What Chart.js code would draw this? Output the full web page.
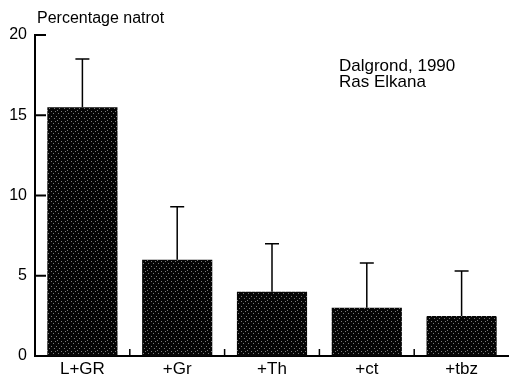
<!DOCTYPE html>
<html>
<head>
<meta charset="utf-8">
<script src="https://cdn.jsdelivr.net/npm/chart.js@4"></script>
<style>
  html, body { margin: 0; padding: 0; background: #fff; }
  #chart { display: block; }
</style>
</head>
<body>
<canvas id="chart" width="509" height="376"></canvas>
<script>
const categories = ['L+GR', '+Gr', '+Th', '+ct', '+tbz'];
const values = [15.5, 6.0, 4.0, 3.0, 2.5];
const errorTops = [18.5, 9.3, 7.0, 5.8, 5.3];
const yTicks = [0, 5, 10, 15, 20];

const FONT = '"Liberation Sans", Arial, Helvetica, sans-serif';

// dark stippled fill like the printed bars
function makePattern() {
  const c = document.createElement('canvas');
  c.width = 10; c.height = 10;
  const g = c.getContext('2d');
  g.fillStyle = '#060606';
  g.fillRect(0, 0, 10, 10);
  g.fillStyle = '#7a7a7a';
  [[1, 1], [5, 1], [3, 3], [8, 3], [1, 6], [6, 6], [4, 8], [9, 8], [7, 0]].forEach(p => g.fillRect(p[0], p[1], 1, 1));
  return g.createPattern(c, 'repeat');
}

const extras = {
  id: 'extras',
  afterDraw(chart) {
    const { ctx, scales: { x, y }, chartArea } = chart;
    ctx.save();
    ctx.strokeStyle = '#000';
    ctx.fillStyle = '#000';

    // error bars (upper only)
    ctx.lineWidth = 1.5;
    errorTops.forEach((e, i) => {
      const px = x.getPixelForValue(i);
      const top = y.getPixelForValue(e);
      const base = y.getPixelForValue(values[i]);
      ctx.beginPath();
      ctx.moveTo(px, base);
      ctx.lineTo(px, top);
      ctx.moveTo(px - 7, top);
      ctx.lineTo(px + 7, top);
      ctx.stroke();
    });

    // inward y ticks
    ctx.lineWidth = 2;
    yTicks.forEach(v => {
      const py = y.getPixelForValue(v);
      ctx.beginPath();
      ctx.moveTo(chartArea.left, py);
      ctx.lineTo(chartArea.left + 11, py);
      ctx.stroke();
    });

    // small ticks between categories
    ctx.lineWidth = 1.5;
    for (let i = 1; i < categories.length; i++) {
      const px = (x.getPixelForValue(i - 1) + x.getPixelForValue(i)) / 2;
      ctx.beginPath();
      ctx.moveTo(px, chartArea.bottom);
      ctx.lineTo(px, chartArea.bottom - 7);
      ctx.stroke();
    }

    ctx.textAlign = 'left';
    ctx.textBaseline = 'alphabetic';
    ctx.font = '16px ' + FONT;
    ctx.fillText('Percentage natrot', 37, 23);
    ctx.font = '17px ' + FONT;
    ctx.fillText('Dalgrond, 1990', 339, 71);
    ctx.fillText('Ras Elkana', 339, 87);
    ctx.restore();
  }
};

new Chart(document.getElementById('chart'), {
  type: 'bar',
  data: {
    labels: categories,
    datasets: [{
      data: values,
      backgroundColor: makePattern(),
      borderWidth: 0,
      barPercentage: 0.74,
      categoryPercentage: 1
    }]
  },
  options: {
    responsive: false,
    animation: false,
    layout: { padding: { top: 35, right: 0, bottom: 0, left: 0 } },
    plugins: { legend: { display: false }, tooltip: { enabled: false } },
    scales: {
      x: {
        grid: { display: false, drawTicks: false },
        border: { display: true, color: '#000', width: 2 },
        ticks: { color: '#000', padding: 3, font: { family: FONT, size: 17 } },
        afterFit(s) { s.height = 20; }
      },
      y: {
        min: 0,
        max: 20,
        afterBuildTicks(s) { s.ticks = yTicks.map(v => ({ value: v })); },
        grid: { display: false, drawTicks: false },
        border: { display: true, color: '#000', width: 2 },
        ticks: { color: '#000', padding: 8, font: { family: FONT, size: 16 } },
        afterFit(s) { s.width = 35; }
      }
    }
  },
  plugins: [extras]
});
</script>
</body>
</html>
